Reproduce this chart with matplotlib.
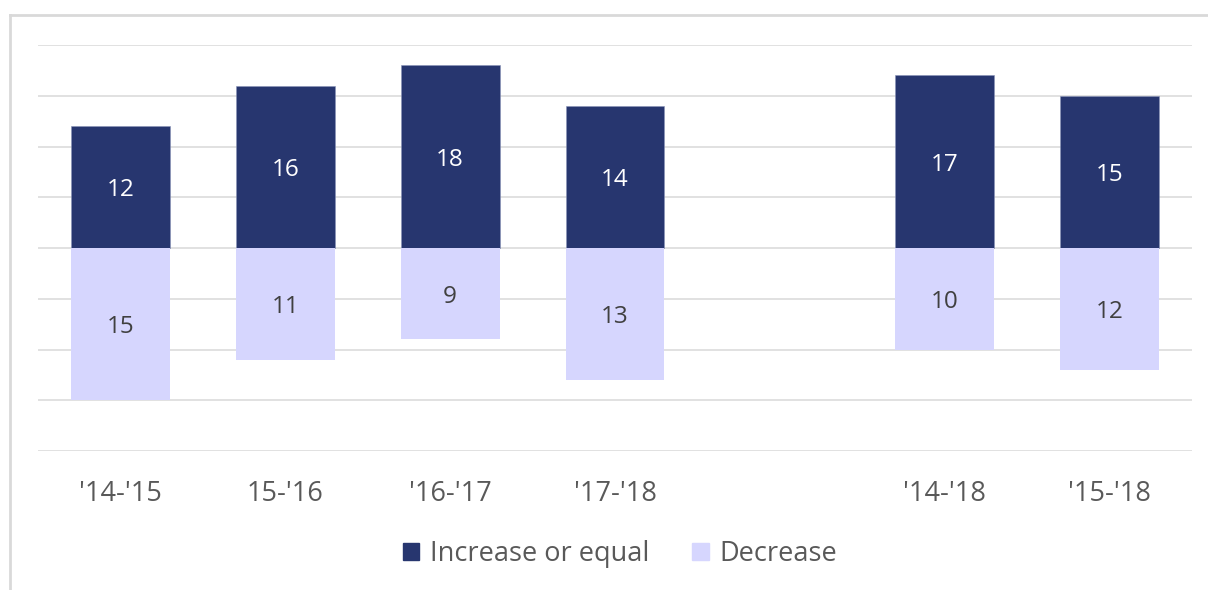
import matplotlib
matplotlib.use("Agg")
from matplotlib import pyplot as plt
from matplotlib.lines import Line2D
from matplotlib.patches import Patch

plt.rcParams['font.family'] = ['Open Sans', 'DejaVu Sans']

periods = ["'14-'15", "15-'16", "'16-'17", "'17-'18", "'14-'18", "'15-'18"]
slots = [0, 1, 2, 3, 5, 6]  # one empty slot between yearly and multi-year groups
increase = [12, 16, 18, 14, 17, 15]
decrease = [15, 11, 9, 13, 10, 12]

dark = '#27366F'
light = '#D6D6FE'

fig = plt.figure(figsize=(12.08, 5.90), dpi=100)
ax = fig.add_axes([38/1208, 1-451/590, (1192-38)/1208, (451-45)/590])

ax.bar(slots, increase, width=0.6, color=dark, edgecolor='#8a93b8', linewidth=0.4, zorder=3)
ax.bar(slots, [-d for d in decrease], width=0.6, color=light, zorder=3)

for x, v in zip(slots, increase):
    ax.text(x, v/2, str(v), ha='center', va='center_baseline', color='white', fontsize=17.5, zorder=4)
for x, v in zip(slots, decrease):
    ax.text(x, -v/2, str(v), ha='center', va='center_baseline', color='#404040', fontsize=17.5, zorder=4)

ax.set_xlim(-0.5, 6.5)
ax.set_ylim(-20, 20)
ax.set_yticks(range(-20, 21, 5))
ax.set_yticklabels([])
ax.tick_params(axis='y', length=0)
ax.set_xticks(slots)
ax.set_xticklabels(periods, fontsize=19.5, color='#595959')
ax.tick_params(axis='x', length=0, pad=21)
ax.grid(axis='y', color='#D9D9D9', linewidth=1.1, zorder=0)
for s in ax.spines.values():
    s.set_visible(False)

handles = [Patch(color=dark, label='Increase or equal'), Patch(color=light, label='Decrease')]
fig.legend(handles=handles, loc='center', bbox_to_anchor=(620/1208, 1-554/590), ncol=2,
           frameon=False, fontsize=19.5, labelcolor='#595959', handlelength=0.6, handleheight=0.6,
           handletextpad=0.4, columnspacing=1.6)

# chart frame remnants (top and left border)
fig.add_artist(Line2D([10/1208, 1], [1-15/590, 1-15/590], color='#D9D9D9', linewidth=2))
fig.add_artist(Line2D([10/1208, 10/1208], [0, 1-15/590], color='#D9D9D9', linewidth=2))

fig.savefig('out.png', dpi=100, facecolor='white')
